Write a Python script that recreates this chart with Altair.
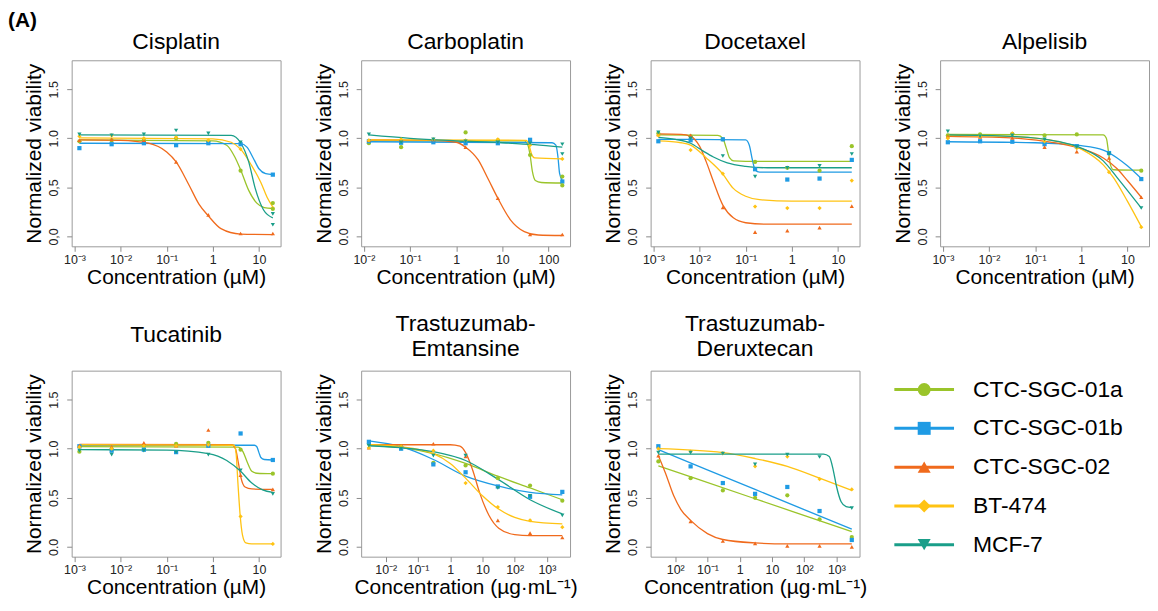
import altair as alt
import pandas as pd
import numpy as np

FONT = "Liberation Sans"

CELL_LINES = ["CTC-SGC-01a", "CTC-SGC-01b", "CTC-SGC-02", "BT-474", "MCF-7"]
COLORS = ["#9AC42A", "#1F9BE4", "#F06A1C", "#FFC313", "#1A9E89"]
SHAPES = ["circle", "square", "triangle-up", "diamond", "triangle-down"]

# tested concentrations
CONC_UM = [0.00128, 0.0064, 0.032, 0.16, 0.8, 4, 20]
CONC_CARBO = [0.0128, 0.064, 0.32, 1.6, 8, 40, 200]
CONC_ADC = [0.003, 0.03, 0.3, 3, 30, 300, 3000]

# ---------------- Cisplatin ----------------
CIS_POINTS = {
    "CTC-SGC-01a": [0.97, 0.98, 0.98, 1.00, 0.97, 0.67, 0.34],
    "CTC-SGC-01b": [0.90, 0.94, 0.95, 0.93, 0.95, 0.94, 0.63],
    "CTC-SGC-02": [0.98, 0.99, 0.98, 0.76, 0.22, 0.03, 0.03],
    "BT-474": [1.02, 1.03, 1.00, 1.01, 0.98, 0.89, 0.29],
    "MCF-7": [1.04, 1.03, 1.04, 1.08, 1.05, 0.96, 0.23],
}
CIS_EXTRA = [("CTC-SGC-01a", 20, 0.28), ("MCF-7", 20, 0.12)]
CIS_CURVES = {
    "CTC-SGC-01a": [(0.00128, 0.985), (1.0, 0.975), (2.0, 0.93), (3.0, 0.81), (4.0, 0.68), (6.0, 0.47), (9.0, 0.34), (13, 0.295), (20, 0.285)],
    "CTC-SGC-01b": [(0.00128, 0.95), (4.0, 0.945), (5.5, 0.91), (7.5, 0.80), (10, 0.69), (14, 0.64), (20, 0.63)],
    "CTC-SGC-02": [(0.00128, 0.985), (0.01, 0.98), (0.04, 0.95), (0.1, 0.86), (0.16, 0.76), (0.3, 0.53), (0.5, 0.33), (0.8, 0.21), (1.5, 0.08), (4, 0.025), (20, 0.02)],
    "BT-474": [(0.00128, 1.005), (1.0, 0.995), (2.5, 0.96), (4, 0.89), (7, 0.72), (11, 0.55), (15, 0.40), (20, 0.30)],
    "MCF-7": [(0.00128, 1.035), (2.5, 1.03), (4, 0.955), (6, 0.76), (8.3, 0.49), (12.6, 0.27), (20, 0.19)],
}

# ---------------- Carboplatin ----------------
CARBO_POINTS = {
    "CTC-SGC-01a": [0.95, 0.91, 0.97, 1.06, 0.98, 0.83, 0.61],
    "CTC-SGC-01b": [0.97, 0.955, 0.96, 0.95, 0.95, 0.985, 0.56],
    "CTC-SGC-02": [0.98, 0.98, 0.99, 0.91, 0.39, 0.02, 0.02],
    "BT-474": [0.98, 0.99, 0.99, 0.98, 0.99, 0.93, 0.79],
    "MCF-7": [1.04, 0.96, 0.99, 0.97, 0.96, 0.95, 0.94],
}
CARBO_EXTRA = [("CTC-SGC-01a", 200, 0.52), ("MCF-7", 200, 0.84)]
CARBO_CURVES = {
    "CTC-SGC-01a": [(0.0128, 0.975), (30, 0.975), (36, 0.93), (40, 0.83), (45, 0.66), (52, 0.57), (70, 0.55), (200, 0.545)],
    "CTC-SGC-01b": [(0.0128, 0.965), (120, 0.955), (145, 0.93), (160, 0.82), (175, 0.64), (200, 0.57)],
    "CTC-SGC-02": [(0.0128, 0.985), (0.3, 0.98), (1.0, 0.96), (1.6, 0.91), (3, 0.78), (5, 0.58), (8, 0.39), (15, 0.17), (30, 0.05), (60, 0.015), (200, 0.01)],
    "BT-474": [(0.0128, 0.985), (33, 0.98), (38, 0.93), (43, 0.84), (50, 0.80), (200, 0.79)],
    "MCF-7": [(0.0128, 1.035), (0.1, 1.0), (1, 0.975), (10, 0.955), (50, 0.935), (200, 0.91)],
}

# ---------------- Docetaxel ----------------
DOCE_POINTS = {
    "CTC-SGC-01a": [1.05, 1.02, 0.99, 0.76, 0.70, 0.67, 0.92],
    "CTC-SGC-01b": [0.97, 0.98, 0.99, 0.685, 0.58, 0.59, 0.78],
    "CTC-SGC-02": [1.04, 1.03, 0.295, 0.045, 0.06, 0.09, 0.31],
    "BT-474": [1.03, 0.88, 0.64, 0.305, 0.29, 0.29, 0.57],
    "MCF-7": [1.06, 1.00, 0.82, 0.61, 0.70, 0.72, 0.84],
}
DOCE_EXTRA = []
DOCE_CURVES = {
    "CTC-SGC-01a": [(0.00128, 1.035), (0.025, 1.03), (0.032, 1.0), (0.038, 0.90), (0.045, 0.80), (0.055, 0.77), (0.1, 0.765), (20, 0.765)],
    "CTC-SGC-01b": [(0.00128, 0.99), (0.1, 0.985), (0.12, 0.93), (0.14, 0.78), (0.16, 0.68), (0.2, 0.655), (20, 0.655)],
    "CTC-SGC-02": [(0.00128, 1.045), (0.004, 1.04), (0.0064, 1.02), (0.01, 0.92), (0.014, 0.76), (0.02, 0.56), (0.032, 0.32), (0.054, 0.19), (0.1, 0.14), (0.3, 0.125), (20, 0.125)],
    "BT-474": [(0.00128, 0.975), (0.004, 0.955), (0.0064, 0.93), (0.014, 0.80), (0.032, 0.635), (0.054, 0.49), (0.1, 0.41), (0.2, 0.375), (1, 0.36), (20, 0.36)],
    "MCF-7": [(0.00128, 1.01), (0.003, 0.99), (0.0064, 0.95), (0.012, 0.87), (0.02, 0.81), (0.04, 0.75), (0.1, 0.715), (0.3, 0.70), (20, 0.70)],
}

# ---------------- Alpelisib ----------------
ALPE_POINTS = {
    "CTC-SGC-01a": [1.03, 1.04, 1.045, 1.03, 1.04, 0.85, 0.67],
    "CTC-SGC-01b": [0.96, 0.97, 0.965, 0.94, 0.92, 0.85, 0.585],
    "CTC-SGC-02": [1.02, 1.015, 1.005, 0.91, 0.865, 0.80, 0.40],
    "BT-474": [1.00, 1.02, 1.05, 0.97, 0.90, 0.655, 0.095],
    "MCF-7": [1.07, 1.02, 1.03, 0.99, 0.91, 0.84, 0.29],
}
ALPE_EXTRA = []
ALPE_CURVES = {
    "CTC-SGC-01a": [(0.00128, 1.04), (3.0, 1.035), (3.5, 1.0), (3.9, 0.86), (4.3, 0.73), (5, 0.68), (20, 0.675)],
    "CTC-SGC-01b": [(0.00128, 0.965), (0.1, 0.955), (1, 0.925), (3, 0.88), (6, 0.80), (10, 0.72), (20, 0.59)],
    "CTC-SGC-02": [(0.00128, 1.02), (0.03, 1.005), (0.3, 0.95), (1, 0.895), (3, 0.80), (6, 0.69), (10, 0.57), (20, 0.40)],
    "BT-474": [(0.00128, 1.03), (0.03, 1.02), (0.3, 0.97), (1, 0.89), (3, 0.73), (5, 0.60), (10, 0.36), (20, 0.10)],
    "MCF-7": [(0.00128, 1.035), (0.03, 1.02), (0.3, 0.97), (1, 0.90), (3, 0.77), (6, 0.60), (10, 0.47), (20, 0.29)],
}

# ---------------- Tucatinib ----------------
TUCA_POINTS = {
    "CTC-SGC-01a": [0.97, 0.99, 1.03, 1.05, 1.06, 0.99, 0.745],
    "CTC-SGC-01b": [1.025, 0.98, 0.99, 0.965, 1.03, 1.155, 0.885],
    "CTC-SGC-02": [1.03, 1.02, 1.06, 1.03, 1.19, 0.73, 0.585],
    "BT-474": [1.015, 1.00, 1.03, 1.03, 1.04, 0.31, 0.03],
    "MCF-7": [0.98, 0.94, 0.98, 0.965, 0.94, 0.78, 0.54],
}
TUCA_EXTRA = []
TUCA_CURVES = {
    "CTC-SGC-01a": [(0.00128, 1.02), (3.5, 1.015), (4.5, 0.97), (5.5, 0.87), (7, 0.77), (9, 0.75), (20, 0.745)],
    "CTC-SGC-01b": [(0.00128, 1.035), (8, 1.035), (9, 1.02), (10, 0.96), (11, 0.91), (13, 0.89), (20, 0.885)],
    "CTC-SGC-02": [(0.00128, 1.045), (2.6, 1.04), (3.1, 1.0), (3.6, 0.85), (4.1, 0.70), (5, 0.61), (7, 0.59), (20, 0.585)],
    "BT-474": [(0.00128, 1.04), (2.9, 1.035), (3.2, 0.95), (3.5, 0.65), (3.9, 0.33), (4.4, 0.12), (5.2, 0.04), (7, 0.03), (20, 0.03)],
    "MCF-7": [(0.00128, 0.99), (0.1, 0.985), (0.8, 0.95), (2, 0.88), (4, 0.77), (7, 0.65), (12, 0.58), (20, 0.555)],
}

# ---------------- Trastuzumab-Emtansine ----------------
TE_POINTS = {
    "CTC-SGC-01a": [1.05, 1.02, 0.855, 0.83, 0.70, 0.625, 0.47],
    "CTC-SGC-01b": [1.07, 1.00, 0.84, 0.76, 0.615, 0.51, 0.56],
    "CTC-SGC-02": [1.01, 1.03, 1.05, 0.92, 0.27, 0.14, 0.095],
    "BT-474": [1.01, 1.02, 0.98, 0.65, 0.405, 0.27, 0.20],
    "MCF-7": [1.03, 1.00, 0.93, 0.93, 0.60, 0.52, 0.32],
}
TE_EXTRA = []
TE_CURVES = {
    "CTC-SGC-01a": [(0.003, 1.035), (0.03, 1.01), (0.3, 0.95), (3, 0.85), (30, 0.72), (300, 0.60), (3000, 0.48)],
    "CTC-SGC-01b": [(0.003, 1.08), (0.03, 1.02), (0.3, 0.89), (3, 0.72), (30, 0.62), (300, 0.555), (3000, 0.53)],
    "CTC-SGC-02": [(0.003, 1.04), (1, 1.04), (2, 1.025), (3, 0.96), (5, 0.78), (8, 0.56), (16, 0.32), (32, 0.19), (100, 0.125), (300, 0.115), (3000, 0.115)],
    "BT-474": [(0.003, 1.04), (0.03, 1.02), (0.3, 0.95), (1, 0.85), (3, 0.70), (10, 0.52), (30, 0.39), (100, 0.30), (300, 0.26), (3000, 0.235)],
    "MCF-7": [(0.003, 1.03), (0.03, 1.01), (0.3, 0.97), (3, 0.88), (30, 0.69), (300, 0.48), (3000, 0.335)],
}

# ---------------- Trastuzumab-Deruxtecan ----------------
TD_POINTS = {
    "CTC-SGC-01a": [0.87, 0.70, 0.575, 0.50, 0.525, 0.28, 0.10],
    "CTC-SGC-01b": [1.025, 0.82, 0.65, 0.54, 0.61, 0.365, 0.07],
    "CTC-SGC-02": [0.93, 0.26, 0.06, 0.035, 0.01, 0.01, 0.00],
    "BT-474": [1.00, 0.97, 0.955, 0.82, 0.92, 0.69, 0.585],
    "MCF-7": [0.96, 0.96, 0.95, 0.84, 0.94, 0.915, 0.395],
}
TD_EXTRA = []
TD_CURVES = {
    "CTC-SGC-01a": [(0.003, 0.825), (3, 0.49), (3000, 0.155)],
    "CTC-SGC-01b": [(0.003, 0.99), (3, 0.585), (3000, 0.18)],
    "CTC-SGC-02": [(0.003, 0.93), (0.005, 0.75), (0.009, 0.52), (0.015, 0.38), (0.03, 0.27), (0.1, 0.135), (0.3, 0.075), (3, 0.04), (30, 0.03), (3000, 0.03)],
    "BT-474": [(0.003, 1.0), (0.3, 0.96), (3, 0.90), (30, 0.82), (300, 0.70), (3000, 0.575)],
    "MCF-7": [(0.003, 0.945), (400, 0.945), (600, 0.92), (800, 0.78), (1000, 0.62), (1400, 0.46), (2000, 0.41), (3000, 0.40)],
}

# axis ticks / labels
TICKS_UM = [0.001, 0.01, 0.1, 1, 10]
LABELS_UM = ["10⁻³", "10⁻²", "10⁻¹", "1", "10"]
TICKS_CARBO = [0.01, 0.1, 1, 10, 100]
LABELS_CARBO = ["10⁻²", "10⁻¹", "1", "10", "100"]
TICKS_ADC = [0.01, 0.1, 1, 10, 100, 1000]
LABELS_TE = ["10⁻²", "10⁻¹", "1", "10", "10²", "10³"]
LABELS_TD = ["10²", "10⁻¹", "1", "10", "10²", "10³"]
Y_TICKS = [0.0, 0.5, 1.0, 1.5]
Y_LABELS = ["0.0", "0.5", "1.0", "1.5"]
Y_LABELS_CIS = ["0,0", "0,5", "1.0", "1.5"]

XTITLE_UM = "Concentration (µM)"
XTITLE_ADC = "Concentration (µg·mL⁻¹)"
YTITLE = "Normalized viability"

color_enc = alt.Color("series:N", scale=alt.Scale(domain=CELL_LINES, range=COLORS), legend=None)
shape_enc = alt.Shape("series:N", scale=alt.Scale(domain=CELL_LINES, range=SHAPES), legend=None)


def label_expr(values, labels):
    parts = []
    for val, lab in zip(values, labels):
        tol = abs(val) * 1e-3 + 1e-9
        parts.append(f"abs(datum.value - ({val})) < {tol} ? '{lab}'")
    return " : ".join(parts) + " : ''"


def points_df(conc, pts, extra):
    rows = []
    for s in CELL_LINES:
        for c, v in zip(conc, pts[s]):
            rows.append({"series": s, "conc": c, "v": v})
    for s, c, v in extra:
        rows.append({"series": s, "conc": c, "v": v})
    return pd.DataFrame(rows)


def curves_df(curves):
    rows = []
    for s in CELL_LINES:
        for c, v in curves[s]:
            rows.append({"series": s, "conc": c, "v": v})
    return pd.DataFrame(rows)


def panel(title, conc, pts, extra, curves, ticks, labels, xtitle, ylabels, title_offset):
    lo = np.log10(min(conc))
    hi = np.log10(max(conc))
    pad = (hi - lo) * 0.04
    xscale = alt.Scale(type="log", domain=[10 ** (lo - pad), 10 ** (hi + pad)], nice=False)
    yscale = alt.Scale(domain=[-0.10, 1.795], nice=False, zero=False)
    xaxis = alt.Axis(values=ticks, labelExpr=label_expr(ticks, labels), title=xtitle,
                     labelPadding=2, titlePadding=1, labelBaseline="top", labelFlush=False)
    yaxis = alt.Axis(values=Y_TICKS, labelExpr=label_expr(Y_TICKS, ylabels), title=YTITLE,
                     labelAngle=270, labelAlign="center", labelBaseline="bottom",
                     labelPadding=6, titlePadding=3, labelFlush=False)
    x = alt.X("conc:Q", scale=xscale, axis=xaxis)
    y = alt.Y("v:Q", scale=yscale, axis=yaxis)
    lines = alt.Chart(curves_df(curves)).mark_line(strokeWidth=1.3, interpolate="monotone").encode(
        x=x, y=y, color=color_enc, detail="series:N")
    dots = alt.Chart(points_df(conc, pts, extra)).mark_point(filled=True, size=18, opacity=1).encode(
        x=x, y=y, color=color_enc, shape=shape_enc)
    return alt.layer(lines, dots).properties(
        width=210, height=187,
        title=alt.TitleParams(text=title, fontSize=23, font=FONT, fontWeight="normal", anchor="middle",
                              frame="group", offset=title_offset, lineHeight=25, color="black"))


p_cis = panel("Cisplatin", CONC_UM, CIS_POINTS, CIS_EXTRA, CIS_CURVES, TICKS_UM, LABELS_UM, XTITLE_UM, Y_LABELS_CIS, 6)
p_carbo = panel("Carboplatin", CONC_CARBO, CARBO_POINTS, CARBO_EXTRA, CARBO_CURVES, TICKS_CARBO, LABELS_CARBO, XTITLE_UM, Y_LABELS, 6)
p_doce = panel("Docetaxel", CONC_UM, DOCE_POINTS, DOCE_EXTRA, DOCE_CURVES, TICKS_UM, LABELS_UM, XTITLE_UM, Y_LABELS, 6)
p_alpe = panel("Alpelisib", CONC_UM, ALPE_POINTS, ALPE_EXTRA, ALPE_CURVES, TICKS_UM, LABELS_UM, XTITLE_UM, Y_LABELS, 6)
p_tuca = panel("Tucatinib", CONC_UM, TUCA_POINTS, TUCA_EXTRA, TUCA_CURVES, TICKS_UM, LABELS_UM, XTITLE_UM, Y_LABELS, 24)
p_te = panel(["Trastuzumab-", "Emtansine"], CONC_ADC, TE_POINTS, TE_EXTRA, TE_CURVES, TICKS_ADC, LABELS_TE, XTITLE_ADC, Y_LABELS, 10)
p_td = panel(["Trastuzumab-", "Deruxtecan"], CONC_ADC, TD_POINTS, TD_EXTRA, TD_CURVES, TICKS_ADC, LABELS_TD, XTITLE_ADC, Y_LABELS, 10)

# legend panel
leg_df = pd.DataFrame({"series": CELL_LINES})
leg_y = alt.Y("series:N", sort=CELL_LINES, axis=None,
              scale=alt.Scale(type="point", range=[19, 175], padding=0))
leg_rule = alt.Chart(leg_df).mark_rule(strokeWidth=3).encode(
    x=alt.value(-46), x2=alt.value(14), y=leg_y, color=color_enc)
leg_pt = alt.Chart(leg_df).mark_point(filled=True, size=170, opacity=1).encode(
    x=alt.value(-16), y=leg_y, color=color_enc, shape=shape_enc)
leg_txt = alt.Chart(leg_df).mark_text(align="left", baseline="middle", fontSize=23, font=FONT, color="black").encode(
    x=alt.value(33), y=leg_y, text="series:N")
p_leg = alt.layer(leg_rule, leg_pt, leg_txt).properties(
    width=210, height=187, view=alt.ViewBackground(stroke="transparent"))

chart = alt.concat(
    p_cis, p_carbo, p_doce, p_alpe, p_tuca, p_te, p_td, p_leg,
    columns=4, bounds="flush", spacing={"row": 125, "column": 81}
).properties(
    title=alt.TitleParams(text="(A)", fontSize=21, fontWeight="bold", font=FONT, color="black",
                          anchor="start", frame="group", dx=-64, offset=0),
    padding={"left": 0, "top": 0, "right": 0, "bottom": 0},
    background="white"
).configure_view(
    stroke="#9a9a9a", strokeWidth=1
).configure_axis(
    labelFont=FONT, labelFontSize=12.5, labelColor="#222222",
    titleFont=FONT, titleFontSize=21, titleFontWeight="normal", titleColor="black",
    tickColor="#8a8a8a", tickSize=5, domain=False, grid=False
)

chart.save("out.html", embed_options={"renderer": "svg", "actions": False})
